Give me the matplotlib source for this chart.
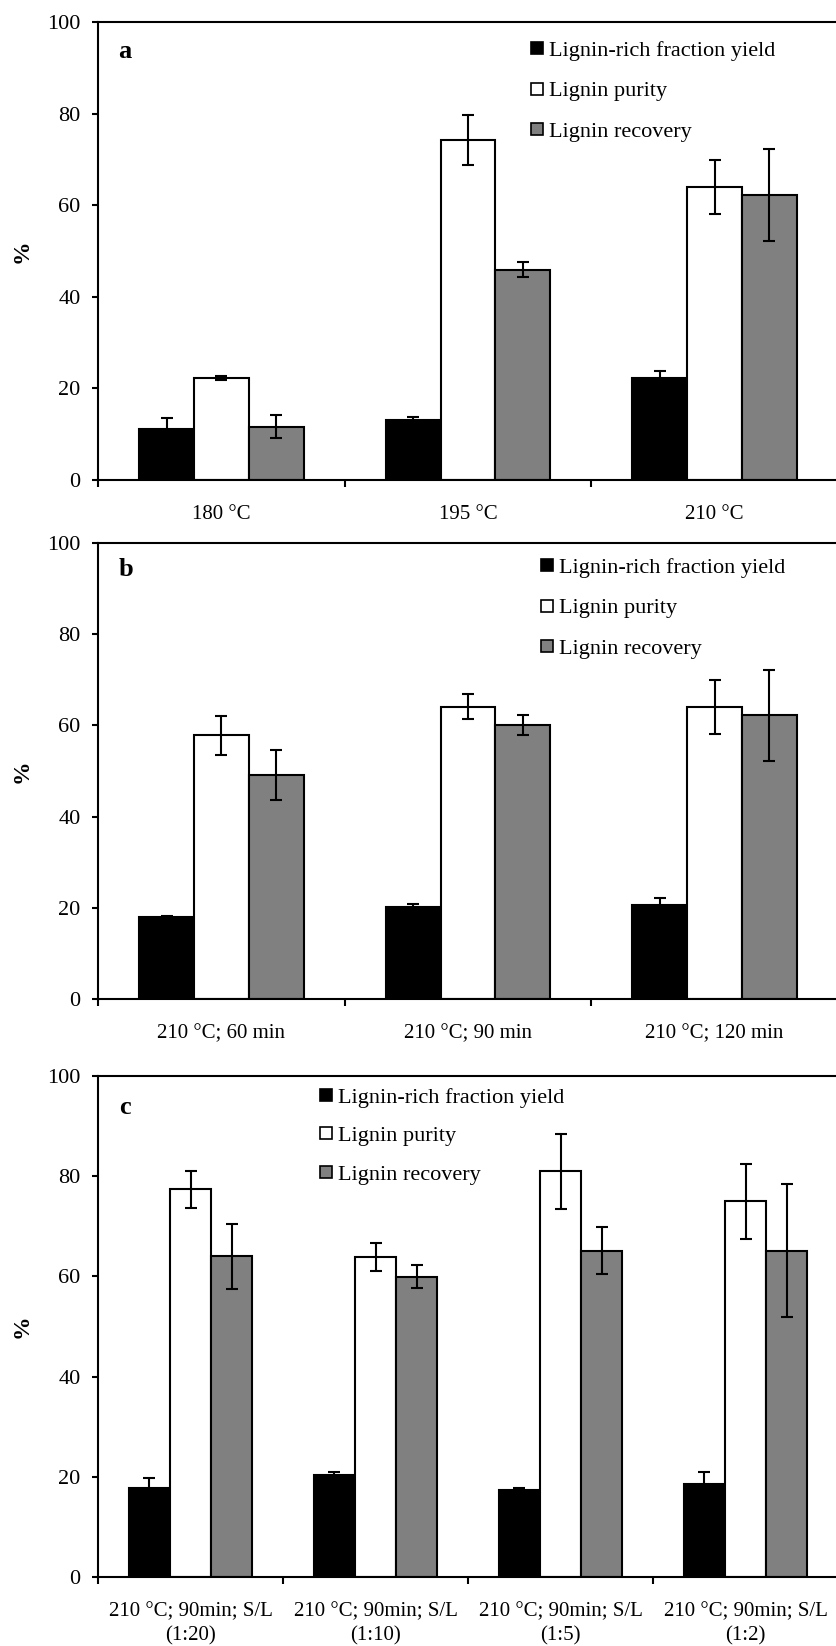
import numpy as np
import matplotlib.pyplot as plt
from matplotlib.lines import Line2D

plt.rcParams['font.family'] = ['Liberation Serif', 'DejaVu Serif']

# panel a - temperature
cats_a = ['180 °C', '195 °C', '210 °C']
yield_a = [11.1, 13.0, 22.2]
yield_a_err = [2.5, 0.8, 1.6]
purity_a = [22.3, 74.2, 64.0]
purity_a_err = [0.5, 5.4, 5.9]
recovery_a = [11.6, 45.9, 62.2]
recovery_a_err = [2.5, 1.6, 10.0]

# panel b - time
cats_b = ['210 °C; 60 min', '210 °C; 90 min', '210 °C; 120 min']
yield_b = [18.0, 20.1, 20.6]
yield_b_err = [0.2, 0.7, 1.6]
purity_b = [57.8, 64.1, 64.1]
purity_b_err = [4.3, 2.8, 5.9]
recovery_b = [49.1, 60.1, 62.2]
recovery_b_err = [5.5, 2.2, 10.0]

# panel c - solid/liquid ratio
cats_c = ['210 °C; 90min; S/L\n(1:20)', '210 °C; 90min; S/L\n(1:10)',
          '210 °C; 90min; S/L\n(1:5)', '210 °C; 90min; S/L\n(1:2)']
yield_c = [17.8, 20.3, 17.3, 18.6]
yield_c_err = [1.9, 0.6, 0.4, 2.3]
purity_c = [77.4, 63.8, 81.0, 75.0]
purity_c_err = [3.7, 2.8, 7.5, 7.5]
recovery_c = [64.0, 59.9, 65.1, 65.1]
recovery_c_err = [6.5, 2.3, 4.7, 13.3]

series_names = ['Lignin-rich fraction yield', 'Lignin purity', 'Lignin recovery']
colors = ['black', 'white', '#808080']

W, H = 836, 1646
fig = plt.figure(figsize=(W / 100, H / 100), dpi=100)


def panel(rect, cats, vals, errs, letter, letter_xy, leg_xy, leg_space):
    ax = fig.add_axes(rect)
    n = len(cats)
    x = np.arange(n)
    bw = 1 / 4.5
    for i in range(3):
        xi = x + (i - 1) * bw
        ax.bar(xi, vals[i], width=bw, color=colors[i], edgecolor='black',
               linewidth=1.5, zorder=2)
        ax.errorbar(xi, vals[i], yerr=errs[i], fmt='none', ecolor='black',
                    elinewidth=1.5, capsize=4.3, capthick=1.5, zorder=3)
    ax.set_xlim(-0.5, n - 0.5)
    ax.set_ylim(0, 100)
    ax.set_yticks(range(0, 101, 20))
    ax.set_xticks(x, cats)
    ax.set_xticks(np.arange(n) - 0.5, minor=True)
    ax.tick_params(axis='x', which='major', length=0, pad=18, labelsize=15)
    ax.tick_params(axis='x', which='minor', length=5, width=1.5, direction='out')
    ax.tick_params(axis='y', length=4.5, width=1.5, direction='out', pad=8,
                   labelsize=16)
    for t in ax.get_xticklabels():
        t.set_linespacing(1.4)
    ax.spines['right'].set_visible(False)
    for s in ['left', 'top', 'bottom']:
        ax.spines[s].set_linewidth(1.5)
    ax.set_ylabel('%', fontsize=17, fontweight='bold')
    ax.yaxis.set_label_coords(-(98 - 33) / 740, 0.5)
    fig.text(letter_xy[0] / W, 1 - letter_xy[1] / H, letter, fontsize=19,
             fontweight='bold', ha='center', va='center')
    handles = [Line2D([], [], marker='s', ls='none', markersize=9,
                      markerfacecolor=c, markeredgecolor='black',
                      markeredgewidth=1.2) for c in colors]
    ax.legend(handles, series_names, loc='upper left', frameon=False,
              bbox_to_anchor=(leg_xy[0] / W, 1 - leg_xy[1] / H),
              bbox_transform=fig.transFigure, fontsize=16, borderpad=0,
              borderaxespad=0, handlelength=0.65, handletextpad=0.2,
              labelspacing=leg_space)
    return ax


left = 98 / W
width = 740 / W
panel([left, 1 - 480 / H, width, 458 / H], cats_a,
      [yield_a, purity_a, recovery_a],
      [yield_a_err, purity_a_err, recovery_a_err], 'a', (125, 52), (530, 40),
      0.91)
panel([left, 1 - 999 / H, width, 456 / H], cats_b,
      [yield_b, purity_b, recovery_b],
      [yield_b_err, purity_b_err, recovery_b_err], 'b', (126, 569), (540, 557),
      0.91)
panel([left, 1 - 1577 / H, width, 501 / H], cats_c,
      [yield_c, purity_c, recovery_c],
      [yield_c_err, purity_c_err, recovery_c_err], 'c', (125, 1107), (319, 1087),
      0.81)

fig.savefig('out.png', dpi=100)
